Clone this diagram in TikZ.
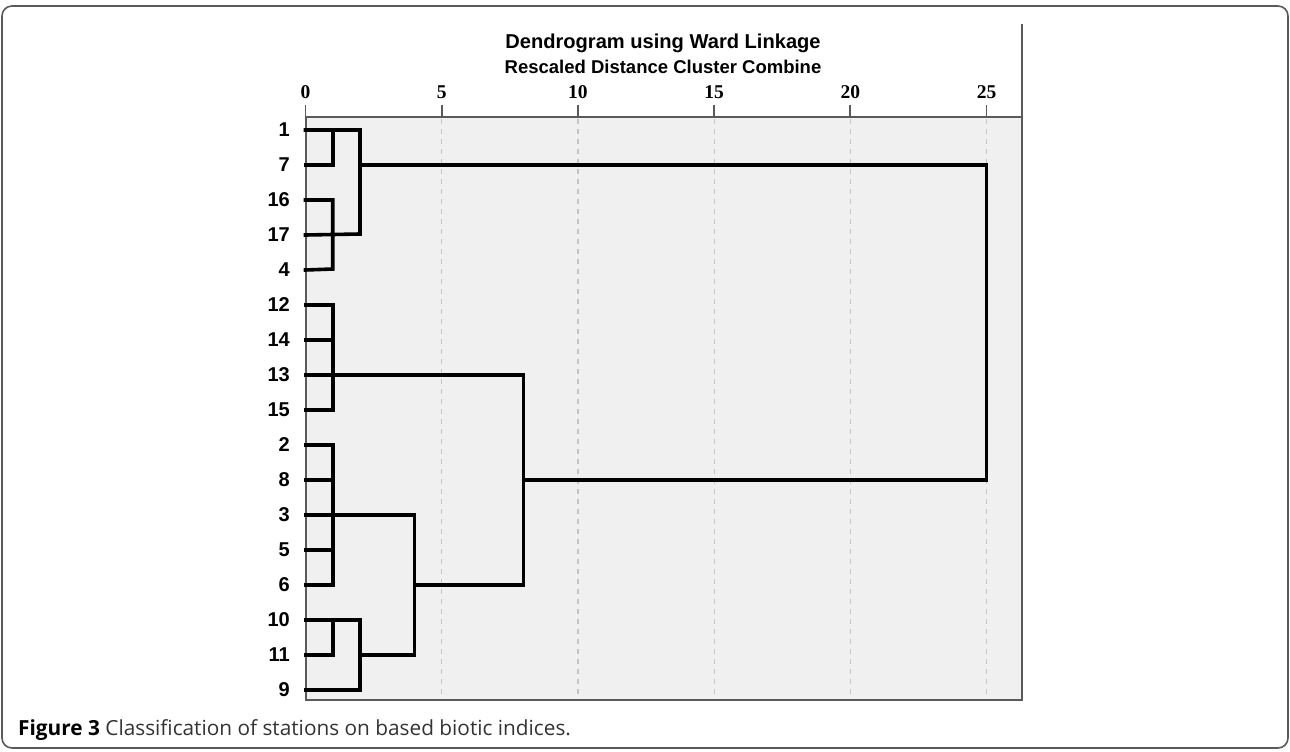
\documentclass[tikz,border=0pt]{standalone}
\usepackage{fontspec}
\setmainfont{Liberation Sans}
\newfontfamily\tickfont{Liberation Serif}
\newfontfamily\capfont{Open Sans}
\definecolor{plotbg}{HTML}{F0F0F0}
\definecolor{frameg}{HTML}{5A5A5A}
\definecolor{gridg}{HTML}{C4C4C4}
\definecolor{captext}{HTML}{333333}
\begin{document}
\begin{tikzpicture}[x=1pt,y=-1pt,
  link/.style={line width=3.6pt,black,line cap=rect,line join=miter},
  gridline/.style={gridg,line width=1.2pt,dash pattern=on 5pt off 5pt},
  border/.style={frameg,line width=2pt},
  tickmark/.style={frameg,line width=1.8pt},
  leaflabel/.style={anchor=east,inner sep=0pt,font=\fontsize{20}{20}\selectfont\bfseries},
  ticklabel/.style={anchor=base,inner sep=0pt,font=\fontsize{19.5}{19.5}\tickfont\bfseries},
]
\useasboundingbox (0,0) rectangle (1290,752);
% outer frame
\draw[frameg,line width=1.6pt,rounded corners=10pt] (2,6) rectangle (1288,748);
% plot area
\fill[plotbg] (305.5,117) rectangle (1022,700);
\foreach \d in {5,10,15,20,25}{
  \draw[gridline] ({305.5+27.24*\d},119) -- ({305.5+27.24*\d},699);
}
\draw[border] (305.5,117) -- (1022,117);
\draw[border] (305.5,117) -- (305.5,700) -- (1022,700);
\draw[border] (1022,24) -- (1022,701);
\foreach \d in {0,5,10,15,20,25}{
  \draw[tickmark] ({305.5+27.24*\d},105) -- ({305.5+27.24*\d},117);
  \node[ticklabel] (t\d) at ({305.5+27.24*\d},99) {\d};
}
% titles
\node[inner sep=0pt,font=\fontsize{20.1}{20.1}\selectfont\bfseries] (title) at (663,43) {Dendrogram using Ward Linkage};
\node[inner sep=0pt,font=\fontsize{18.5}{18.5}\selectfont\bfseries] (subtitle) at (663,67) {Rescaled Distance Cluster Combine};
% leaves
\foreach \lab/\i in {1/0,7/1,16/2,17/3,4/4,12/5,14/6,13/7,15/8,2/9,8/10,3/11,5/12,6/13,10/14,11/15,9/16}{
  \node[leaflabel] (n\lab) at (290,{130+35*\i}) {\lab};
  \coordinate (L\lab) at (305.5,{130+35*\i});
}
% distance helper coordinates
\def\xa{332.7}\def\xb{360}\def\xd{414.5}\def\xh{523.5}\def\xz{986.5}
% cluster 1,7 / 16,17,4
\draw[link] (L7) -- (\xa,165) -- (\xa,130);
\draw[link] (L1) -- (\xb,130) -- (\xb,234) -- (L17);
\draw[link] (L16) -- (\xa,200) -- (\xa,269) -- (L4);
\draw[link] (\xb,165) -- (\xz,165) -- (\xz,480) -- (\xh,480);
% cluster 12,14,13,15
\draw[link] (L12) -- (\xa,305) -- (\xa,410) -- (L15);
\draw[link] (L14) -- (\xa,340);
\draw[link] (L13) -- (\xh,375) -- (\xh,585) -- (\xd,585);
% cluster 2,8,3,5,6
\draw[link] (L2) -- (\xa,445) -- (\xa,585) -- (L6);
\draw[link] (L8) -- (\xa,480);
\draw[link] (L5) -- (\xa,550);
\draw[link] (L3) -- (\xd,515) -- (\xd,655) -- (\xb,655);
% cluster 10,11,9
\draw[link] (L10) -- (\xb,620) -- (\xb,690) -- (L9);
\draw[link] (L11) -- (\xa,655) -- (\xa,620);
% caption
\node[anchor=base west,inner sep=0pt,text=captext,font=\fontsize{20.8}{20.8}\capfont] (caption) at (18,735) {\textbf{\color{black}Figure 3} Classification of stations on based biotic indices.};
\end{tikzpicture}
\end{document}
